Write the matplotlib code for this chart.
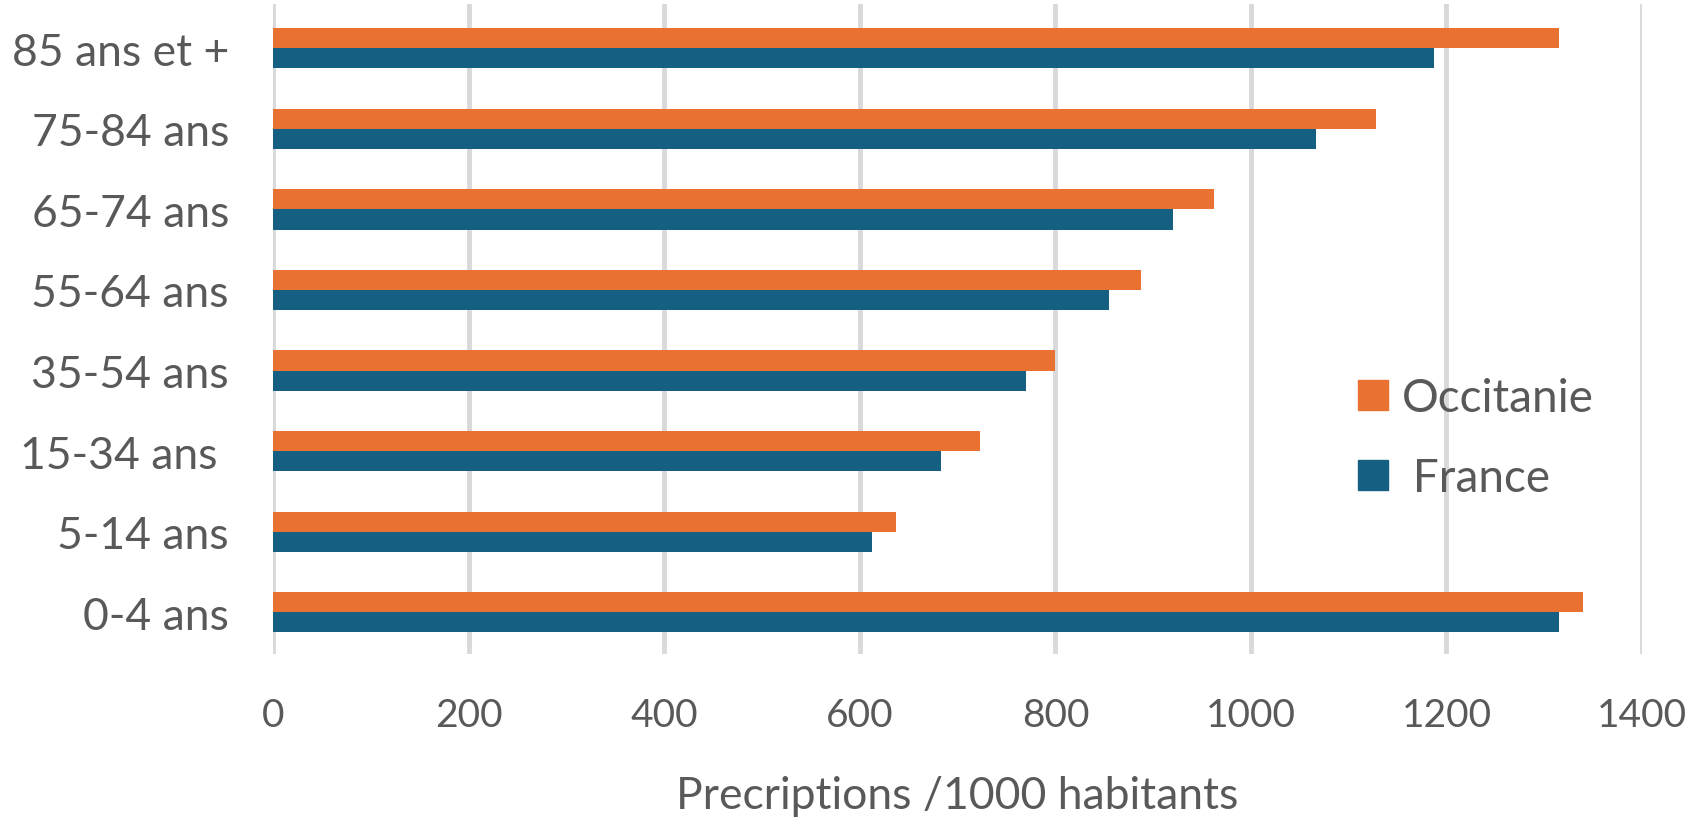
import numpy as np
import matplotlib.pyplot as plt
from matplotlib.patches import Patch

# categories, bottom to top
categories = ["0-4 ans", "5-14 ans", "15-34 ans ", "35-54 ans", "55-64 ans",
              "65-74 ans", "75-84 ans", "85 ans et +"]
occitanie = [1340, 637, 723, 800, 888, 962, 1128, 1315]
france = [1315, 612, 683, 770, 855, 920, 1067, 1187]
xticks = [0, 200, 400, 600, 800, 1000, 1200, 1400]

orange = "#E97132"
blue = "#156082"
grey = "#595959"

plt.rcParams['font.family'] = ['Lato', 'DejaVu Sans']

fig = plt.figure(figsize=(16.98, 8.2), dpi=100)
ax = fig.add_axes([0.161, 0.201, 0.806, 0.793])

y = np.arange(len(categories))
h = 0.25
ax.barh(y + h / 2, occitanie, height=h, color=orange, zorder=3)
ax.barh(y - h / 2, france, height=h, color=blue, zorder=3)

ax.set_xlim(0, 1400)
ax.set_ylim(-0.52, 7.55)
ax.set_xticks(xticks)
ax.set_yticks(y)
ax.set_yticklabels(categories)
ax.tick_params(axis='both', length=0, labelcolor=grey)
ax.tick_params(axis='y', pad=32, labelsize=32)
ax.tick_params(axis='x', pad=31, labelsize=28)

ax.grid(axis='x', color='#D9D9D9', linewidth=3.5, zorder=0)
for s in ax.spines.values():
    s.set_visible(False)

ax.set_xlabel("Precriptions /1000 habitants", fontsize=32, color=grey, labelpad=30)

handles = [Patch(color=orange, label="Occitanie"), Patch(color=blue, label=" France")]
ax.legend(handles=handles, loc='center left', bbox_to_anchor=(0.776, 0.332),
          frameon=False, fontsize=33, labelcolor=grey, handlelength=0.64,
          handleheight=0.64, handletextpad=0.3, labelspacing=0.83, borderpad=0)

fig.savefig("out.png", dpi=100)
